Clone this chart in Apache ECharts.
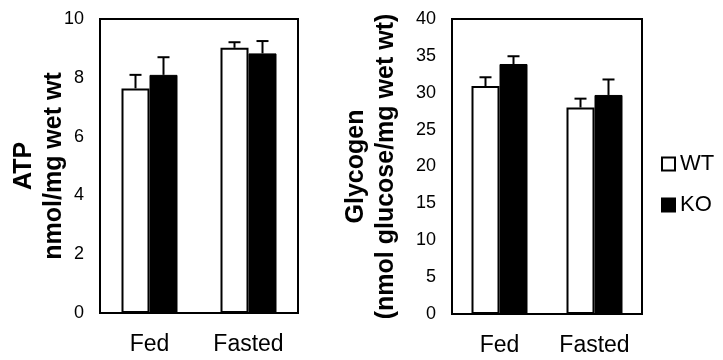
<!DOCTYPE html>
<html>
<head>
<meta charset="utf-8">
<title>ATP and glycogen</title>
<script src="https://cdn.jsdelivr.net/npm/echarts@6/dist/echarts.min.js"></script>
<style>
	html, body { margin: 0; padding: 0; background: #fff; }
	#main { width: 723px; height: 360px; }
</style>
</head>
<body>
<div id="main"></div>
<script>
'use strict';

// values
const categories = ['Fed', 'Fasted'];
const atpWT = [7.64, 9.02];
const atpWTErr = [0.46, 0.19];
const atpKO = [8.1, 8.83];
const atpKOErr = [0.6, 0.42];
const glyWT = [30.9, 28.0];
const glyWTErr = [1.2, 1.2];
const glyKO = [33.9, 29.7];
const glyKOErr = [1.05, 2.1];

const FONT = "'Liberation Sans', Arial, sans-serif";
const BAR_W = 28;

// initialize the echarts instance based on the prepared dom
var myChart = echarts.init(document.getElementById('main'));

//upward-only error bar, shifted onto its bar
function errorBar(side) {
	return function(params, api) {
		const cat = api.value(0);
		const base = api.coord([cat, api.value(1)]);
		const top = api.coord([cat, api.value(1) + api.value(2)]);
		const x = base[0] + side * BAR_W / 2;
		const style = { stroke: '#000', lineWidth: 2 };
		return {
			type: 'group',
			children: [
				{ type: 'line', shape: { x1: x, y1: base[1], x2: x, y2: top[1] }, style: style },
				{ type: 'line', shape: { x1: x - 6, y1: top[1], x2: x + 6, y2: top[1] }, style: style }
			]
		};
	};
}

function errData(vals, errs) {
	const out = [];
	for (let i = 0; i < vals.length; i++) {
		out.push([i, vals[i], errs[i]]);
	}
	return out;
}

function xAxis(idx) {
	return {
		type: 'category',
		gridIndex: idx,
		data: categories,
		axisLine: { lineStyle: { color: '#000', width: 2 } },
		axisTick: { length: 8, lineStyle: { color: '#000', width: 2 } },
		axisLabel: { color: '#000', fontFamily: FONT, fontSize: 23, margin: 20 }
	};
}

function yAxis(idx, max, interval, name, gap) {
	return {
		type: 'value',
		gridIndex: idx,
		min: 0,
		max: max,
		interval: interval,
		name: name,
		nameLocation: 'middle',
		nameRotate: 90,
		nameGap: gap,
		nameMoveOverlap: false,
		nameTextStyle: { color: '#000', fontFamily: FONT, fontSize: 25, fontWeight: 'bold', lineHeight: 30 },
		splitLine: { show: false },
		axisLine: { show: true, lineStyle: { color: '#000', width: 2 } },
		axisTick: { length: 6, lineStyle: { color: '#000', width: 2 } },
		axisLabel: { color: '#000', fontFamily: FONT, fontSize: 18, margin: 16 }
	};
}

//top and right edges of the box round each plot
function frameX(idx) {
	return {
		type: 'category', gridIndex: idx, position: 'top', data: categories,
		axisLine: { show: true, onZero: false, lineStyle: { color: '#000', width: 2 } },
		axisTick: { show: false }, axisLabel: { show: false }
	};
}

function frameY(idx, max) {
	return {
		type: 'value', gridIndex: idx, position: 'right', min: 0, max: max,
		splitLine: { show: false },
		axisLine: { show: true, onZero: false, lineStyle: { color: '#000', width: 2 } },
		axisTick: { show: false }, axisLabel: { show: false }
	};
}

var option = {
	animation: false,
	textStyle: { fontFamily: FONT },
	legend: {
		data: ['WT', 'KO'],
		orient: 'vertical',
		left: 656,
		top: 148,
		icon: 'rect',
		itemWidth: 13,
		itemHeight: 13,
		itemGap: 19,
		selectedMode: false,
		textStyle: { color: '#000', fontFamily: FONT, fontSize: 22 }
	},
	grid: [
		{ left: 100, top: 19, width: 198, height: 294, show: true, borderColor: '#000', borderWidth: 2 },
		{ left: 452, top: 19, width: 190, height: 295, show: true, borderColor: '#000', borderWidth: 2 }
	],
	xAxis: [xAxis(0), xAxis(1), frameX(0), frameX(1)],
	yAxis: [
		yAxis(0, 10, 2, 'ATP\nnmol/mg wet wt', 31),
		yAxis(1, 40, 5, 'Glycogen\n(nmol glucose/mg wet wt)', 51),
		frameY(0, 10),
		frameY(1, 40)
	],
	series: [
		{
			name: 'WT', type: 'bar', xAxisIndex: 0, yAxisIndex: 0,
			barWidth: BAR_W, barGap: '0%', data: atpWT,
			itemStyle: { color: '#fff', borderColor: '#000', borderWidth: 2 }
		},
		{
			name: 'KO', type: 'bar', xAxisIndex: 0, yAxisIndex: 0,
			barWidth: BAR_W, barGap: '0%', data: atpKO,
			itemStyle: { color: '#000', borderColor: '#000', borderWidth: 1 }
		},
		{
			name: 'WT', type: 'bar', xAxisIndex: 1, yAxisIndex: 1,
			barWidth: BAR_W, barGap: '0%', data: glyWT,
			itemStyle: { color: '#fff', borderColor: '#000', borderWidth: 2 }
		},
		{
			name: 'KO', type: 'bar', xAxisIndex: 1, yAxisIndex: 1,
			barWidth: BAR_W, barGap: '0%', data: glyKO,
			itemStyle: { color: '#000', borderColor: '#000', borderWidth: 1 }
		},
		{ type: 'custom', xAxisIndex: 0, yAxisIndex: 0, z: 3, renderItem: errorBar(-1), data: errData(atpWT, atpWTErr) },
		{ type: 'custom', xAxisIndex: 0, yAxisIndex: 0, z: 3, renderItem: errorBar(1), data: errData(atpKO, atpKOErr) },
		{ type: 'custom', xAxisIndex: 1, yAxisIndex: 1, z: 3, renderItem: errorBar(-1), data: errData(glyWT, glyWTErr) },
		{ type: 'custom', xAxisIndex: 1, yAxisIndex: 1, z: 3, renderItem: errorBar(1), data: errData(glyKO, glyKOErr) }
	]
};

// display the chart
myChart.setOption(option);
</script>
</body>
</html>
